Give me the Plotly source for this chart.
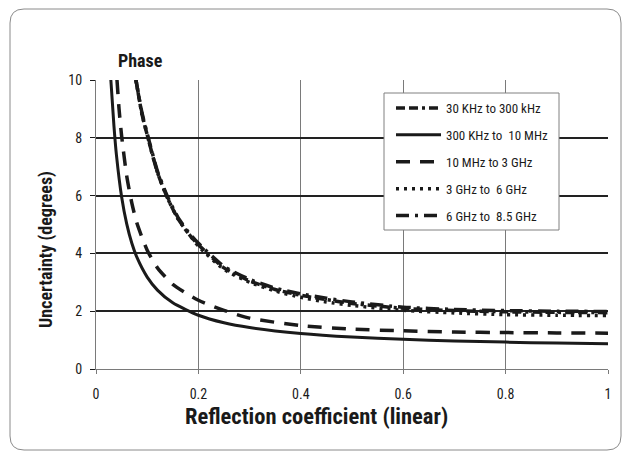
import plotly.graph_objects as go

# ---- data ----
x_30k = [0.078, 0.09, 0.10, 0.12, 0.14, 0.16, 0.18, 0.20, 0.25, 0.30, 0.35, 0.40, 0.45, 0.50, 0.60, 0.70, 0.80, 0.90, 1.00]
y_30k = [10.0, 8.8, 8.1, 6.8, 5.9, 5.2, 4.7, 4.3, 3.5, 3.05, 2.75, 2.55, 2.40, 2.27, 2.10, 2.02, 1.98, 1.96, 1.95]

x_300k = [0.029, 0.035, 0.04, 0.05, 0.06, 0.07, 0.08, 0.10, 0.12, 0.15, 0.20, 0.25, 0.30, 0.40, 0.50, 0.60, 0.70, 0.80, 0.90, 1.00]
y_300k = [10.0, 8.42, 7.39, 5.96, 5.02, 4.35, 3.86, 3.18, 2.73, 2.29, 1.86, 1.60, 1.435, 1.23, 1.107, 1.03, 0.97, 0.93, 0.896, 0.87]

x_10m = [0.041, 0.045, 0.05, 0.06, 0.07, 0.08, 0.10, 0.12, 0.15, 0.20, 0.25, 0.30, 0.40, 0.50, 0.60, 0.70, 0.80, 0.90, 1.00]
y_10m = [10.0, 9.0, 8.07, 6.68, 5.74, 5.04, 4.11, 3.5, 2.93, 2.38, 2.03, 1.76, 1.50, 1.38, 1.32, 1.28, 1.26, 1.25, 1.24]

x_3g = [0.078, 0.09, 0.10, 0.12, 0.14, 0.16, 0.18, 0.20, 0.25, 0.30, 0.35, 0.40, 0.45, 0.50, 0.60, 0.70, 0.80, 0.90, 1.00]
y_3g = [10.0, 8.8, 8.1, 6.8, 5.9, 5.2, 4.7, 4.25, 3.45, 3.0, 2.7, 2.48, 2.32, 2.2, 2.03, 1.94, 1.88, 1.86, 1.85]

x_6g = [0.078, 0.09, 0.10, 0.12, 0.14, 0.16, 0.18, 0.20, 0.25, 0.30, 0.35, 0.40, 0.45, 0.50, 0.60, 0.70, 0.80, 0.90, 1.00]
y_6g = [10.0, 8.85, 8.15, 6.85, 5.95, 5.25, 4.75, 4.35, 3.55, 3.1, 2.8, 2.6, 2.45, 2.32, 2.14, 2.06, 2.02, 2.0, 1.99]

names = ["30 KHz to 300 kHz", "300 KHz to  10 MHz", "10 MHz to 3 GHz", "3 GHz to  6 GHz", "6 GHz to  8.5 GHz"]
x_ticks = [0, 0.2, 0.4, 0.6, 0.8, 1]
x_tick_text = ["0", "0.2", "0.4", "0.6", "0.8", "1"]
y_ticks = [0, 2, 4, 6, 8, 10]

FONT = "Liberation Sans Narrow, Roboto Condensed, Arial Narrow, Liberation Sans, sans-serif"
INK = "#1a1a1a"

series = [
    (x_30k, y_30k, dict(width=3.5, dash="9px,4px,9px,4px,3px,4px")),
    (x_300k, y_300k, dict(width=3, dash="solid")),
    (x_10m, y_10m, dict(width=3.5, dash="14px,10px")),
    (x_3g, y_3g, dict(width=3.5, dash="3px,5px")),
    (x_6g, y_6g, dict(width=3.5, dash="13px,6px,3px,6px")),
]

fig = go.Figure()
for i, (xs, ys, ln) in enumerate(series):
    fig.add_trace(go.Scatter(
        x=xs, y=ys, mode="lines", name=names[i], legendgroup=f"g{i}",
        line=dict(color=INK, shape="spline", smoothing=0.6, **ln),
    ))

# pixel -> paper helpers (plot area spans x 96..608, y 80..369)
def px(xp):
    return (xp - 96) / 512.0

def py(yp):
    return (369 - yp) / 289.0

fig.update_layout(
    width=630, height=458,
    paper_bgcolor="white", plot_bgcolor="white",
    margin=dict(l=96, r=22, t=80, b=89),
    font=dict(family=FONT, color=INK, size=14),
    showlegend=True,
    legend=dict(
        x=px(391), y=py(93), xanchor="left", yanchor="top",
        bgcolor="rgba(0,0,0,0)", borderwidth=0,
        font=dict(family=FONT, size=13, color=INK),
        tracegroupgap=7, traceorder="grouped", itemwidth=45,
    ),
    xaxis=dict(
        range=[0, 1], tickvals=x_ticks, ticktext=x_tick_text,
        showgrid=True, gridcolor="#7a7a7a", gridwidth=1,
        zeroline=False, showline=True, linecolor="#7a7a7a", linewidth=1,
        ticks="outside", ticklen=4, tickcolor="#7a7a7a", ticklabelstandoff=8,
        tickfont=dict(family=FONT, size=14, color=INK), fixedrange=True,
    ),
    yaxis=dict(
        range=[0, 10], tickvals=y_ticks,
        showgrid=True, gridcolor="#222222", gridwidth=1.5,
        zeroline=False, showline=True, linecolor="#7a7a7a", linewidth=1,
        ticks="outside", ticklen=5, tickcolor=INK, ticklabelstandoff=5,
        tickfont=dict(family=FONT, size=14, color=INK), fixedrange=True,
    ),
)

# outer rounded frame
L, R, T, B, r = 10, 621, 9, 450, 14
path = (
    f"M {px(L + r)},{py(T)} L {px(R - r)},{py(T)} Q {px(R)},{py(T)} {px(R)},{py(T + r)} "
    f"L {px(R)},{py(B - r)} Q {px(R)},{py(B)} {px(R - r)},{py(B)} "
    f"L {px(L + r)},{py(B)} Q {px(L)},{py(B)} {px(L)},{py(B - r)} "
    f"L {px(L)},{py(T + r)} Q {px(L)},{py(T)} {px(L + r)},{py(T)} Z"
)
fig.add_shape(type="path", path=path, xref="paper", yref="paper",
              line=dict(color="#8a8a8a", width=1), layer="below")

# legend box
fig.add_shape(type="rect", xref="paper", yref="paper",
              x0=px(384), x1=px(559), y0=py(230), y1=py(93),
              line=dict(color="#808080", width=1), fillcolor="white", layer="above")

fig.add_annotation(text="<b>Phase</b>", x=px(116), y=py(60), xref="paper", yref="paper",
                   xanchor="left", yanchor="middle", showarrow=False,
                   font=dict(family=FONT, size=18, color=INK))
fig.add_annotation(text="<b>Uncertainty (degrees)</b>", x=px(46), y=py(250), xref="paper", yref="paper",
                   xanchor="center", yanchor="middle", textangle=-90, showarrow=False,
                   font=dict(family=FONT, size=18, color=INK))
fig.add_annotation(text="<b>Reflection coefficient (linear)</b>", x=px(316), y=py(416), xref="paper", yref="paper",
                   xanchor="center", yanchor="middle", showarrow=False,
                   font=dict(family=FONT, size=22.5, color=INK))

fig.write_html("out.html", config={"displayModeBar": False},
               post_script="document.body.style.margin='0';document.body.style.overflow='hidden';")
